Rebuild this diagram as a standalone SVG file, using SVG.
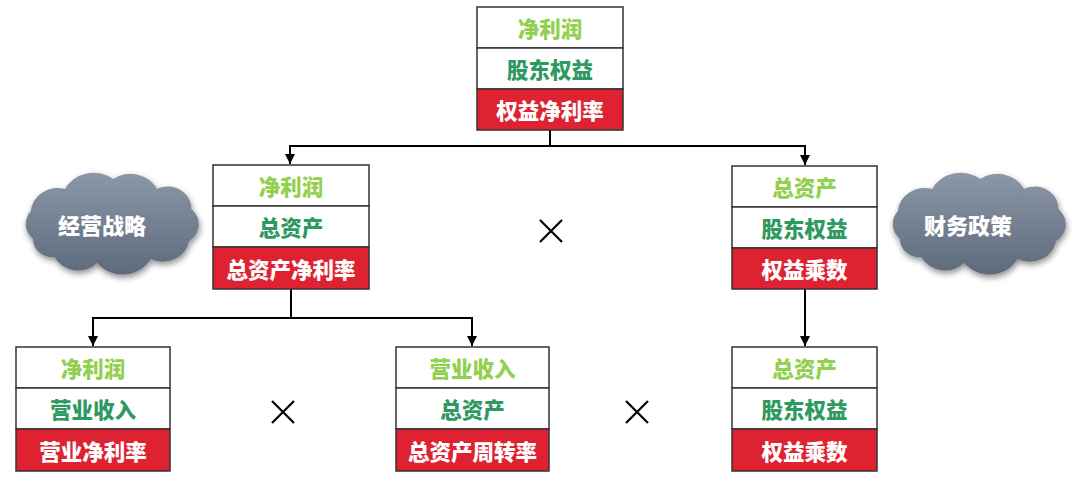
<svg xmlns="http://www.w3.org/2000/svg" width="1075" height="484" viewBox="0 0 1075 484">
<style>
.box{fill:#fff;stroke:#333;stroke-width:1.5}
.red{fill:#DE2231;stroke:#333;stroke-width:1.5}
text{font-family:"Noto Sans CJK SC","Noto Sans",sans-serif;font-weight:900;font-size:21.5px;text-anchor:middle;dominant-baseline:central}
.lg{fill:#92D050}
.dg{fill:#2E9960}
.wt{fill:#fff}
.ct{fill:#fff;font-size:22px}
.conn{fill:none;stroke:#000;stroke-width:2}
.x{stroke:#000;stroke-width:2.2}
</style>
<defs>
<marker id="ah" viewBox="0 0 10 10" refX="10" refY="5" markerWidth="5" markerHeight="5" orient="auto" markerUnits="strokeWidth">
<path d="M0,0 L10,5 L0,10 Z" fill="#000"/>
</marker>
<linearGradient id="cg" x1="0" y1="0" x2="0" y2="1">
<stop offset="0" stop-color="#8C97A7"/>
<stop offset="1" stop-color="#5D6A7C"/>
</linearGradient>
<filter id="sh" x="-20%" y="-20%" width="140%" height="150%">
<feGaussianBlur in="SourceAlpha" stdDeviation="3"/>
<feOffset dx="1" dy="3" result="b"/>
<feComponentTransfer><feFuncA type="linear" slope="0.45"/></feComponentTransfer>
<feMerge><feMergeNode/><feMergeNode in="SourceGraphic"/></feMerge>
</filter>
<path id="cloud" d="M -72,18 A 20 20 0 0 1 -74,-10 A 25 25 0 0 1 -42,-32 A 30 30 0 0 1 3,-42 A 28 28 0 0 1 44,-32 A 22 22 0 0 1 76,-12 A 20 20 0 0 1 74,20 A 25 25 0 0 1 38,38 A 30 30 0 0 1 -12,42 A 25 25 0 0 1 -52,36 A 18 18 0 0 1 -72,18 Z"/>
</defs>

<g id="connectors">
<path class="conn" d="M550,130 V146 H290 V164" marker-end="url(#ah)"/>
<path class="conn" d="M550,146 H805 V165" marker-end="url(#ah)"/>
<path class="conn" d="M805,289 V346" marker-end="url(#ah)"/>
<path class="conn" d="M291,289 V318 H93 V346" marker-end="url(#ah)"/>
<path class="conn" d="M291,318 H472 V346" marker-end="url(#ah)"/>
</g>

<g id="node-roe">
<rect class="box" x="477" y="7" width="146" height="41"/>
<rect class="box" x="477" y="48" width="146" height="41"/>
<rect class="red" x="477" y="89" width="146" height="41"/>
<text class="lg" x="550" y="27.5">净利润</text>
<text class="dg" x="550" y="68.5">股东权益</text>
<text class="wt" x="550" y="109.5">权益净利率</text>
</g>

<g id="node-roa">
<rect class="box" x="213" y="165" width="156" height="41"/>
<rect class="box" x="213" y="206" width="156" height="41"/>
<rect class="red" x="213" y="247" width="156" height="42"/>
<text class="lg" x="291" y="185.5">净利润</text>
<text class="dg" x="291" y="226.5">总资产</text>
<text class="wt" x="291" y="268">总资产净利率</text>
</g>

<g id="node-em1">
<rect class="box" x="732" y="166" width="145" height="41"/>
<rect class="box" x="732" y="207" width="145" height="41"/>
<rect class="red" x="732" y="248" width="145" height="41"/>
<text class="lg" x="804.5" y="186.5">总资产</text>
<text class="dg" x="804.5" y="227.5">股东权益</text>
<text class="wt" x="804.5" y="268.5">权益乘数</text>
</g>

<g id="node-npm">
<rect class="box" x="16" y="347" width="154" height="41"/>
<rect class="box" x="16" y="388" width="154" height="41"/>
<rect class="red" x="16" y="429" width="154" height="42"/>
<text class="lg" x="93" y="367.5">净利润</text>
<text class="dg" x="93" y="408.5">营业收入</text>
<text class="wt" x="93" y="450">营业净利率</text>
</g>

<g id="node-tat">
<rect class="box" x="396" y="347" width="153" height="41"/>
<rect class="box" x="396" y="388" width="153" height="41"/>
<rect class="red" x="396" y="429" width="153" height="42"/>
<text class="lg" x="472.5" y="367.5">营业收入</text>
<text class="dg" x="472.5" y="408.5">总资产</text>
<text class="wt" x="472.5" y="450">总资产周转率</text>
</g>

<g id="node-em2">
<rect class="box" x="732" y="347" width="145" height="41"/>
<rect class="box" x="732" y="388" width="145" height="41"/>
<rect class="red" x="732" y="429" width="145" height="42"/>
<text class="lg" x="804.5" y="367.5">总资产</text>
<text class="dg" x="804.5" y="408.5">股东权益</text>
<text class="wt" x="804.5" y="450">权益乘数</text>
</g>

<g id="cloud-strategy">
<use href="#cloud" transform="translate(110,221) scale(1.07,1)" fill="url(#cg)" filter="url(#sh)"/>
<text class="ct" x="102" y="224">经营战略</text>
</g>

<g id="cloud-finance">
<use href="#cloud" transform="translate(977,221) scale(1.07,1)" fill="url(#cg)" filter="url(#sh)"/>
<text class="ct" x="968" y="224">财务政策</text>
</g>

<g id="times">
<path class="x" d="M540,220 L562,242 M562,220 L540,242"/>
<path class="x" d="M272,401 L294,423 M294,401 L272,423"/>
<path class="x" d="M626,401 L648,423 M648,401 L626,423"/>
</g>
</svg>
